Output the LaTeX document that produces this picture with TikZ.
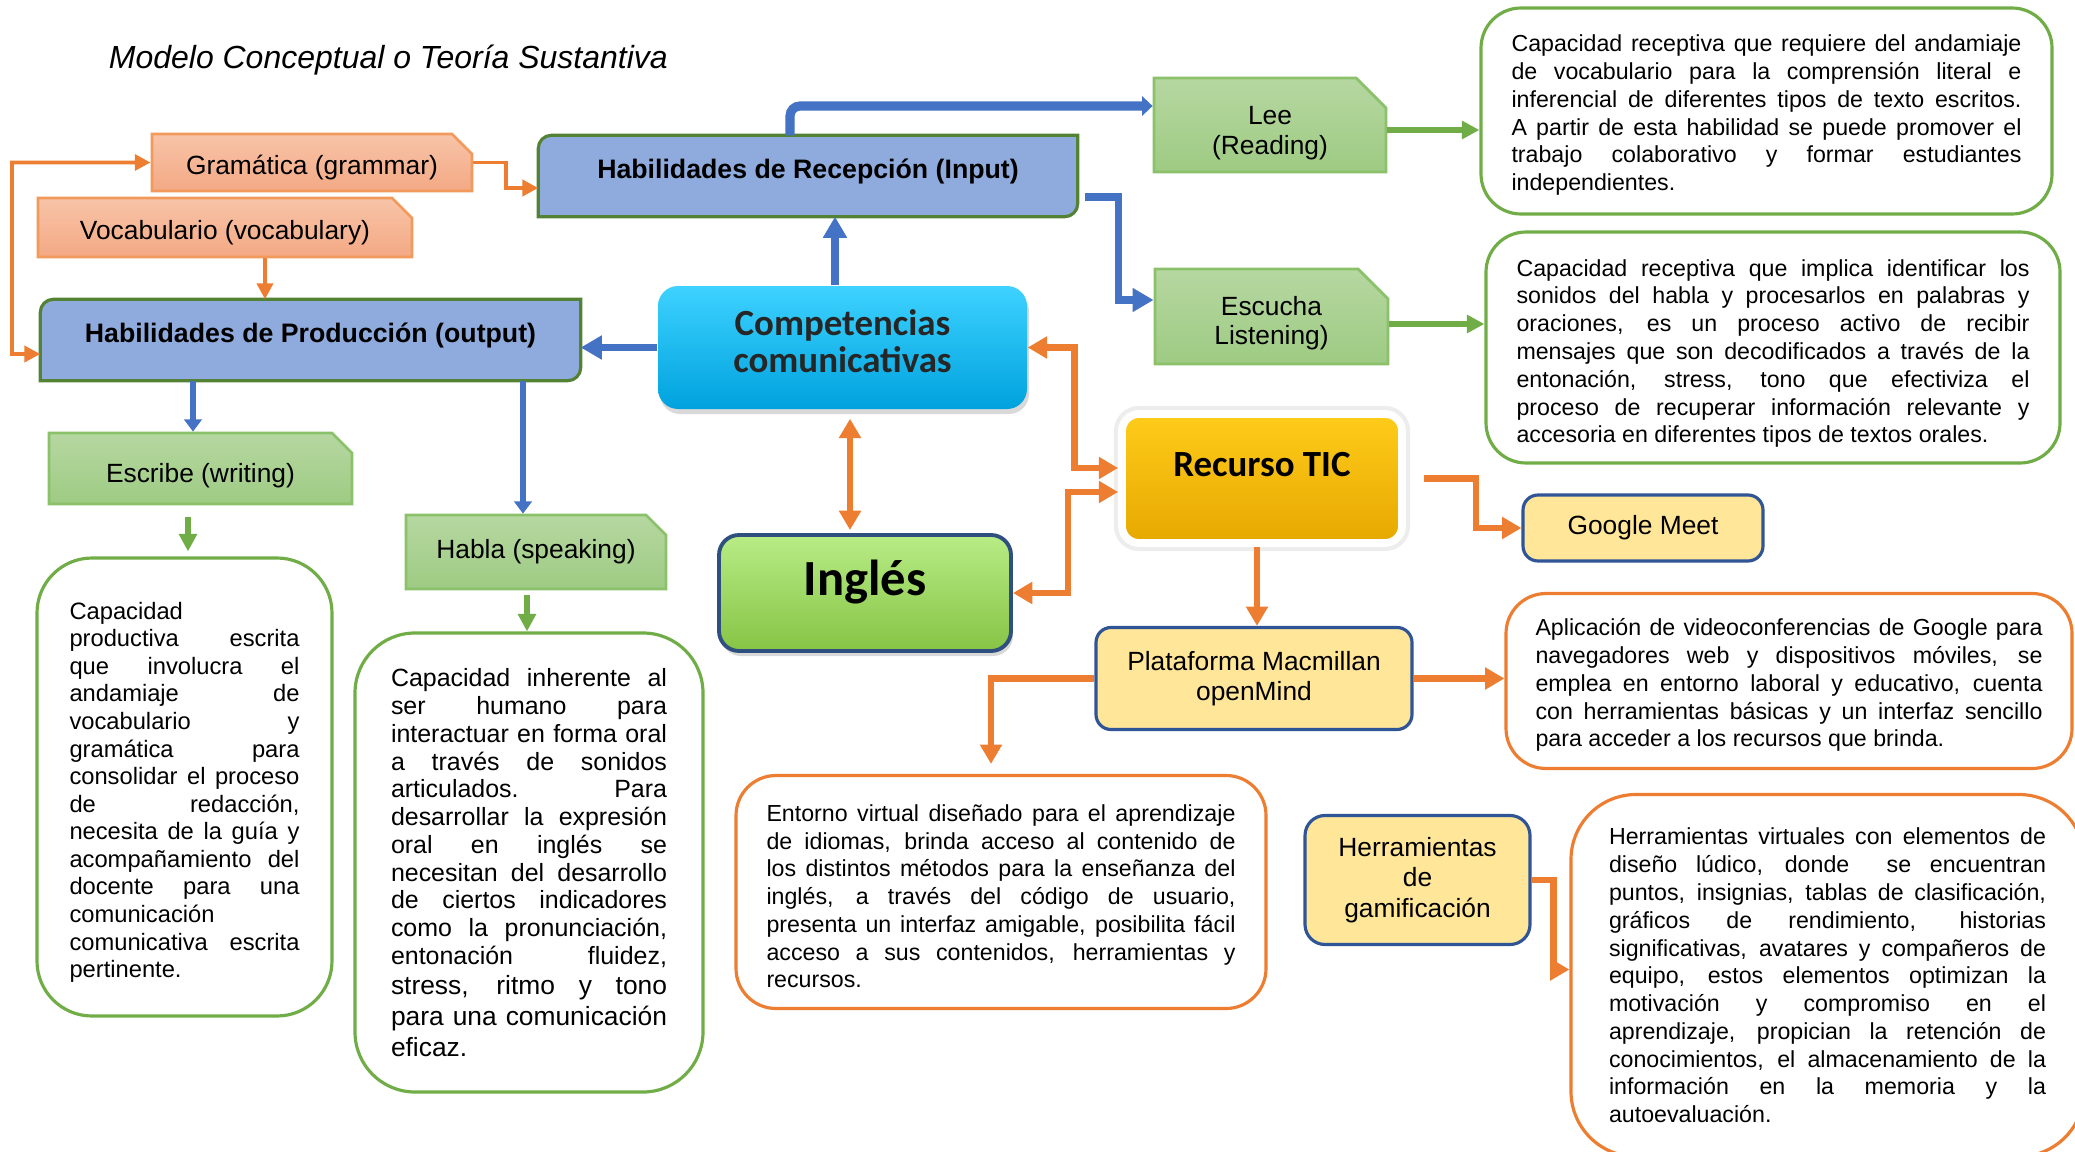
\documentclass[tikz,border=0pt]{standalone}
\usepackage{fontspec}
\setmainfont{Liberation Sans}
\newfontfamily\calibri{Carlito}
\usetikzlibrary{positioning,shapes.misc,shadows,arrows.meta}
\pgfdeclarelayer{background}
\pgfsetlayers{background,main}

\definecolor{arrblue}{HTML}{4472C4}
\definecolor{arrorange}{HTML}{ED7D31}
\definecolor{arrgreen}{HTML}{70AD47}
\definecolor{saltop}{HTML}{F7C4A8}
\definecolor{salbot}{HTML}{F4A984}
\definecolor{salline}{HTML}{F19A5C}
\definecolor{grntop}{HTML}{B6D7A1}
\definecolor{grnbot}{HTML}{9ECB83}
\definecolor{grnline}{HTML}{8CC16B}
\definecolor{habfill}{HTML}{8FAADC}
\definecolor{habline}{HTML}{548235}
\definecolor{comptop}{HTML}{3DD2FF}
\definecolor{compmid}{HTML}{00ADEC}
\definecolor{compbot}{HTML}{00A2DE}
\definecolor{tictop}{HTML}{FFCC1A}
\definecolor{ticmid}{HTML}{F6BA00}
\definecolor{ticbot}{HTML}{E6A800}
\definecolor{ingtop}{HTML}{B8EC86}
\definecolor{ingmid}{HTML}{9CDB5A}
\definecolor{ingbot}{HTML}{86C445}
\definecolor{ingline}{HTML}{2F4F7F}
\definecolor{yelfill}{HTML}{FFE699}
\definecolor{yelline}{HTML}{2F5597}

\begin{document}
\begin{tikzpicture}[node distance=2.0cm]
    \tikzset{
        snipbox/.style = {chamfered rectangle, chamfered rectangle corners=north east, chamfered rectangle xsep=0.1cm, chamfered rectangle ysep=0.1cm, inner sep=0pt, line width=0.8pt, draw=salline, top color=saltop, bottom color=salbot, align=center, font=\fontsize{7.5}{8.5}\selectfont},
        greenbox/.style = {snipbox, chamfered rectangle xsep=0.15cm, chamfered rectangle ysep=0.15cm, draw=grnline, top color=grntop, bottom color=grnbot},
        habnode/.style = {rectangle, minimum width=5.38cm, minimum height=0.8cm, inner sep=0pt, text depth=0.14cm, font=\fontsize{7.6}{9}\selectfont\bfseries},
        habshape/.style = {fill=habfill, draw=habline, line width=0.9pt},
        bigbox/.style = {rectangle, rounded corners=0.2cm, inner sep=0pt, align=center},
        softshadow/.style = {drop shadow={opacity=0.3, shadow xshift=0.02cm, shadow yshift=-0.05cm}},
        yelbox/.style = {rectangle, rounded corners=0.15cm, line width=0.9pt, draw=yelline, fill=yelfill, inner sep=0pt, align=center, font=\fontsize{7.5}{8.7}\selectfont},
        descbox/.style = {rectangle, rounded corners=0.4cm, line width=0.9pt, fill=white, inner sep=0pt, align=justify, font=\fontsize{6.6}{7.9}\selectfont\sloppy},
        barrow/.style = {line width=2.1pt, draw=arrblue, ->, >={Triangle[width=6.5pt,length=6pt]}},
        bthin/.style = {line width=1.6pt, draw=arrblue, ->, >={Triangle[width=5pt,length=3.5pt]}},
        oarrow/.style = {line width=1.9pt, draw=arrorange, ->, >={Triangle[width=6pt,length=5.5pt]}},
        othin/.style = {line width=1.1pt, draw=arrorange, ->, >={Triangle[width=4.5pt,length=4.5pt]}},
        garrow/.style = {line width=1.6pt, draw=arrgreen, ->, >={Triangle[width=5pt,length=5pt]}}
    }
    \useasboundingbox (0,0) rectangle (20.75,-11.52);

    \node (title) [anchor=west, font=\fontsize{9.1}{11}\selectfont\itshape] at (0.965,-0.6) {Modelo Conceptual o Teoría Sustantiva};

    \node (comp) [bigbox, softshadow, minimum width=3.69cm, minimum height=1.23cm, top color=comptop, middle color=compmid, bottom color=compbot, text=black!85, font=\calibri\bfseries\fontsize{10.5}{10.5}\selectfont] at (8.425,-3.475) {Competencias\\comunicativas\rule[-3.5pt]{0pt}{1pt}};
    \node (rec) [habnode, above of=comp, xshift=-0.345cm, yshift=-0.285cm] {Habilidades de Recepción (Input)};
    \node (prod) [habnode, minimum width=5.39cm, left of=comp, xshift=-3.32cm, yshift=0.075cm] {Habilidades de Producción (output)};
    \node (ingles) [bigbox, softshadow, minimum width=2.92cm, minimum height=1.16cm, line width=1.1pt, draw=ingline, top color=ingtop, middle color=ingmid, bottom color=ingbot, text depth=0.3cm, font=\calibri\bfseries\fontsize{14.4}{15}\selectfont, below of=comp, xshift=0.225cm, yshift=-0.455cm] {Inglés};
    \node (tic) [bigbox, rounded corners=0.17cm, minimum width=2.8cm, minimum height=1.29cm, line width=2.2pt, draw=white, preaction={draw=black!7, line width=4.6pt}, top color=tictop, middle color=ticmid, bottom color=ticbot, text depth=0.28cm, font=\calibri\bfseries\fontsize{10.5}{11}\selectfont, right of=comp, xshift=2.195cm, yshift=-1.31cm] {Recurso TIC};

    \begin{pgfonlayer}{background}
        \filldraw [habshape] (rec.south west) -- ([yshift=-0.13cm]rec.north west) arc [start angle=180, end angle=90, radius=0.13cm] -- (rec.north east) -- ([yshift=0.13cm]rec.south east) arc [start angle=0, end angle=-90, radius=0.13cm] -- cycle;
        \filldraw [habshape] (prod.south west) -- ([yshift=-0.13cm]prod.north west) arc [start angle=180, end angle=90, radius=0.13cm] -- (prod.north east) -- ([yshift=0.13cm]prod.south east) arc [start angle=0, end angle=-90, radius=0.13cm] -- cycle;
    \end{pgfonlayer}

    \node (gram) [snipbox, text height=8.5pt, minimum width=3.2cm, minimum height=0.57cm, left of=rec, xshift=-2.96cm, yshift=0.135cm] {Gramática (grammar)};
    \node (vocab) [snipbox, text height=8.5pt, minimum width=3.74cm, minimum height=0.59cm, below of=gram, xshift=-0.87cm, yshift=1.35cm] {Vocabulario (vocabulary)};
    \coordinate (lp) at (0.12,-3.54);

    \node (lee) [greenbox, minimum width=2.32cm, minimum height=0.94cm, right of=rec, xshift=2.62cm, yshift=0.51cm] {\rule{0pt}{8.4pt}Lee\\\raisebox{0pt}[\height][0pt]{(Reading)}};
    \node (esc) [greenbox, minimum width=2.33cm, minimum height=0.95cm, below of=lee, xshift=0.015cm, yshift=0.085cm] {\rule{0pt}{7.7pt}Escucha\\\raisebox{0pt}[\height][0pt]{Listening)}};
    \node (leed) [descbox, draw=arrgreen, text width=5.1cm, minimum width=5.71cm, minimum height=2.06cm, right of=lee, xshift=2.965cm, yshift=0.14cm] {\rule{0pt}{7.2pt}Capacidad receptiva que requiere del andamiaje \linebreak de vocabulario para la comprensión literal e \linebreak inferencial de diferentes tipos de texto escritos. \linebreak A partir de esta habilidad se puede promover el \linebreak trabajo colaborativo y formar estudiantes \linebreak independientes.};
    \node (escd) [descbox, draw=arrgreen, text width=5.13cm, minimum width=5.74cm, minimum height=2.31cm, right of=esc, xshift=3.015cm, yshift=-0.31cm] {\rule{0pt}{8.2pt}Capacidad receptiva que implica identificar los \linebreak sonidos del habla y procesarlos en palabras y \linebreak oraciones, es un proceso activo de recibir \linebreak mensajes que son decodificados a través de la \linebreak entonación, stress, tono que efectiviza el \linebreak proceso de recuperar información relevante y \linebreak accesoria en diferentes tipos de textos orales.};

    \node (meet) [yelbox, minimum width=2.4cm, minimum height=0.66cm, right of=tic, xshift=1.81cm, yshift=-0.495cm] {Google Meet};
    \node (plat) [yelbox, minimum width=3.16cm, minimum height=1.02cm, below of=tic, xshift=-0.08cm] {Plataforma Macmillan\\openMind};
    \node (meetd) [descbox, draw=arrorange, text width=5.07cm, minimum width=5.66cm, minimum height=1.75cm, right of=plat, xshift=3.35cm, yshift=-0.025cm] {\rule{0pt}{7.3pt}Aplicación de videoconferencias de Google para \linebreak navegadores web y dispositivos móviles, se \linebreak emplea en entorno laboral y educativo, cuenta \linebreak con herramientas básicas y un interfaz sencillo \linebreak para acceder a los recursos que brinda.};
    \node (platd) [descbox, draw=arrorange, text width=4.69cm, minimum width=5.3cm, minimum height=2.33cm, below of=plat, xshift=-2.53cm, yshift=-0.135cm] {\rule{0pt}{7.2pt}Entorno virtual diseñado para el aprendizaje \linebreak de idiomas, brinda acceso al contenido de \linebreak los distintos métodos para la enseñanza del \linebreak inglés, a través del código de usuario, \linebreak presenta un interfaz amigable, posibilita fácil \linebreak acceso a sus contenidos, herramientas y \linebreak recursos.};
    \node (gami) [yelbox, rounded corners=0.2cm, minimum width=2.25cm, minimum height=1.29cm, right of=platd, xshift=2.165cm, yshift=0.12cm] {Herramientas\\de\\gamificación};
    \node (gamid) [descbox, draw=arrorange, rounded corners=0.65cm, text width=4.37cm, minimum width=5.13cm, minimum height=3.62cm, right of=gami, xshift=2.1cm, yshift=-0.955cm] {Herramientas virtuales con elementos de \linebreak diseño lúdico, donde \ se encuentran \linebreak puntos, insignias, tablas de clasificación, \linebreak gráficos de rendimiento, historias \linebreak significativas, avatares y compañeros de \linebreak equipo, estos elementos optimizan la \linebreak motivación y compromiso en el \linebreak aprendizaje, propician la retención de \linebreak conocimientos, el almacenamiento de la \linebreak información en la memoria y la \linebreak autoevaluación.};

    \node (escr) [greenbox, text height=9.3pt, chamfered rectangle xsep=0.1cm, chamfered rectangle ysep=0.1cm, minimum width=3.03cm, minimum height=0.71cm, below of=prod, xshift=-1.1cm, yshift=0.715cm] {Escribe (writing)};
    \node (habla) [greenbox, chamfered rectangle xsep=0.1cm, chamfered rectangle ysep=0.1cm, minimum width=2.6cm, minimum height=0.74cm, below of=prod, xshift=2.255cm, yshift=-0.12cm] {Habla (speaking)};
    \node (escrd) [descbox, draw=arrgreen, rounded corners=0.55cm, text width=2.3cm, minimum width=2.95cm, minimum height=4.58cm, font=\fontsize{6.75}{7.85}\selectfont\sloppy, below of=escr, xshift=-0.16cm, yshift=-1.185cm] {\rule{0pt}{7.9pt}Capacidad \linebreak productiva escrita \linebreak que involucra el \linebreak andamiaje de \linebreak vocabulario y \linebreak gramática para \linebreak consolidar el proceso \linebreak de redacción, \linebreak necesita de la guía y \linebreak acompañamiento del \linebreak docente para una \linebreak comunicación \linebreak comunicativa escrita \linebreak pertinente.};
    \node (hablad) [descbox, draw=arrgreen, rounded corners=0.6cm, text width=2.76cm, minimum width=3.48cm, minimum height=4.59cm, font=\fontsize{7.1}{7.9}\selectfont\sloppy, below of=habla, xshift=-0.07cm, yshift=-1.105cm] {Capacidad inherente al \linebreak ser humano para \linebreak interactuar en forma oral \linebreak a través de sonidos \linebreak articulados. Para \linebreak desarrollar la expresión \linebreak oral en inglés se \linebreak necesitan del desarrollo \linebreak de ciertos indicadores \linebreak como la pronunciación, \linebreak entonación fluidez,\vadjust{\vskip0.8pt} \linebreak {\fontsize{7.5}{7.9}\selectfont stress, ritmo y tono\vadjust{\vskip0.8pt} \linebreak para una comunicación\vadjust{\vskip0.8pt} \linebreak eficaz.}};

    \draw [othin, <->] (gram.west) -| (lp) -- ([yshift=-0.14cm]prod.west);
    \draw [othin] (gram.east) -- ++(0.33,0) |- ([yshift=-0.12cm]rec.west);
    \draw [othin] ([xshift=0.4cm]vocab.south) -- ([xshift=0.4cm]vocab.south |- prod.north);

    \draw [barrow] (comp.west) -- (comp.west -| prod.east);
    \draw [barrow] ([xshift=-0.075cm]comp.north) -- ([xshift=-0.075cm]comp.north |- rec.south);
    \draw [barrow, line width=2.6pt, rounded corners=0.1cm, >={Triangle[width=5.5pt,length=3pt]}] ([xshift=-0.18cm]rec.north) |- ([yshift=0.19cm]lee.west);
    \draw [barrow] ([xshift=0.07cm, yshift=-0.21cm]rec.east) -- ++(0.34,0) |- ([yshift=0.165cm]esc.west);
    \draw [bthin] ([xshift=-0.075cm]escr.north |- prod.south) -- ([xshift=-0.075cm]escr.north);
    \draw [bthin] ([xshift=-0.13cm]habla.north |- prod.south) -- ([xshift=-0.13cm]habla.north);

    \draw [garrow] ([yshift=-0.05cm]lee.east) -- ([yshift=-0.05cm]lee.east -| leed.west);
    \draw [garrow] ([yshift=-0.075cm]esc.east) -- ([yshift=-0.075cm]esc.east -| escd.west);
    \draw [garrow] ([xshift=-0.125cm, yshift=-0.12cm]escr.south) -- ([xshift=-0.125cm, yshift=0.05cm]escr.south |- escrd.north);
    \draw [garrow] ([xshift=-0.09cm, yshift=-0.05cm]habla.south) -- ([xshift=-0.09cm]habla.south |- hablad.north);

    \draw [oarrow, <->] ([xshift=0.075cm, yshift=-0.09cm]comp.south) -- ([xshift=0.075cm, yshift=0.03cm]comp.south |- ingles.north);
    \draw [oarrow, <->] (comp.east) -- ++(0.47,0) |- ([yshift=0.105cm]tic.west);
    \draw [oarrow, <->] (ingles.east) -- ++(0.55,0) |- ([yshift=-0.135cm]tic.west);
    \draw [oarrow] ([xshift=0.18cm]tic.east) -- ++(0.52,0) |- (meet.west);
    \draw [oarrow] ([xshift=-0.05cm]tic.south) -- ([xshift=-0.05cm]tic.south |- plat.north);
    \draw [oarrow] (plat.west) -| ([xshift=-0.1cm, yshift=0.1cm]platd.north);
    \draw [oarrow] (plat.east) -- (plat.east -| meetd.west);
    \draw [oarrow] (gami.east) -- ++(0.22,0) |- ([yshift=0.06cm]gamid.west);

\end{tikzpicture}
\end{document}
